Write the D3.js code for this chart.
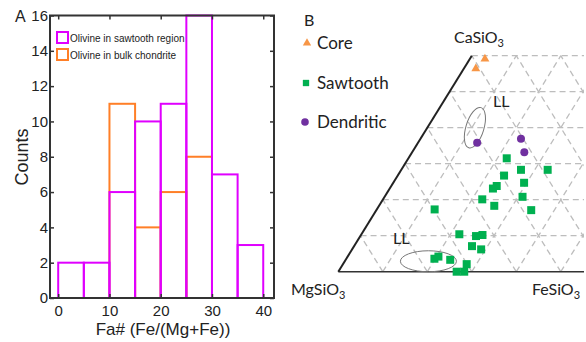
<!DOCTYPE html>
<html>
<head>
<meta charset="utf-8">
<script src="https://cdn.jsdelivr.net/npm/d3@7"></script>
<style>
  body { margin: 0; background: #fff; }
  svg { display: block; }
</style>
</head>
<body>
<div id="chart"></div>
<script>
// ---- panel A data: Fa# histogram ----
const binEdges = [0, 5, 10, 15, 20, 25, 30, 35, 40];
const sawtoothCounts = [2, 2, 6, 10, 11, 16, 7, 3];
const bulkCounts = [0, 0, 11, 4, 6, 8, 0, 0];
const xTicks = [0, 10, 20, 30, 40];
const yTicks = [0, 2, 4, 6, 8, 10, 12, 14, 16];
const histLegend = ["Olivine in sawtooth region", "Olivine in bulk chondrite"];

// ---- panel B data: pyroxene ternary (fs, wo in %) ----
const corePts = [[3.4, 59.1], [2.7, 56.4]];
const dendriticPts = [[13.3, 35.8], [22.6, 36.9], [25.2, 33.2]];
const sawtoothPts = [
  [22.1, 31.5], [26.9, 28.3], [32.9, 28.3], [23.9, 26.7], [29.4, 24.7],
  [23.7, 23.8], [23.2, 23.1], [31.0, 20.8], [22.3, 20.1], [25.9, 18.3],
  [34.8, 17.1], [13.0, 17.3], [22.0, 10.4], [26.0, 9.9], [27.3, 10.2],
  [26.5, 7.1], [29.0, 6.2], [19.8, 3.6], [20.4, 4.2], [23.5, 3.3],
  [27.8, 2.1], [26.6, 0], [28.3, 0]
];
const llFields = [
  { fs: 10.7, wo: 40.0, rx: 21, ry: 9, rot: -73 },
  { fs: 18.8, wo: 2.9, rx: 28, ry: 10.5, rot: 0 }
];
const gridSteps = [10, 20, 30, 40, 50, 60, 70, 80, 90];
const woMax = 60;

const W = 586, H = 342;
const svg = d3.select("#chart").append("svg").attr("width", W).attr("height", H);

const magenta = "#e000ff", orange = "#ff7f27";

// ================= panel A =================
const x = d3.scaleLinear().domain([-1.6, 42.1]).range([50, 274]);
const y = d3.scaleLinear().domain([0, 16]).range([298, 15.5]);
const gA = svg.append("g").style("font-family", "'Liberation Sans', Arial, sans-serif");

function drawBars(counts, color) {
  gA.append("g").selectAll("rect")
    .data(counts.map((c, i) => ({ c, x0: binEdges[i], x1: binEdges[i + 1] })).filter(d => d.c > 0))
    .enter().append("rect")
    .attr("x", d => x(d.x0))
    .attr("y", d => y(d.c))
    .attr("width", d => x(d.x1) - x(d.x0))
    .attr("height", d => y(0) - y(d.c))
    .attr("fill", "none")
    .attr("stroke", color)
    .attr("stroke-width", 2);
}
drawBars(bulkCounts, orange);
drawBars(sawtoothCounts, magenta);

// axes box with inward ticks (both sides)
const tl = 4;
gA.append("g").attr("transform", `translate(0,${y(0)})`)
  .call(d3.axisBottom(x).tickValues(xTicks).tickSizeInner(-tl).tickSizeOuter(0).tickPadding(7))
  .call(g => g.select(".domain").remove());
gA.append("g").attr("transform", `translate(0,${y(16)})`)
  .call(d3.axisTop(x).tickValues(xTicks).tickSizeInner(-tl).tickSizeOuter(0).tickFormat(""))
  .call(g => g.select(".domain").remove());
gA.append("g").attr("transform", `translate(${x.range()[0]},0)`)
  .call(d3.axisLeft(y).tickValues(yTicks).tickSizeInner(-tl).tickSizeOuter(0).tickPadding(2))
  .call(g => g.select(".domain").remove());
gA.append("g").attr("transform", `translate(${x.range()[1]},0)`)
  .call(d3.axisRight(y).tickValues(yTicks).tickSizeInner(-tl).tickSizeOuter(0).tickFormat(""))
  .call(g => g.select(".domain").remove());
gA.selectAll(".tick line").attr("stroke", "#333").attr("stroke-width", 1.5);
gA.selectAll(".tick text").attr("font-size", 15).attr("fill", "#222")
  .style("font-family", "'Liberation Sans', Arial, sans-serif");

gA.append("rect")
  .attr("x", x.range()[0]).attr("y", y(16))
  .attr("width", x.range()[1] - x.range()[0]).attr("height", y(0) - y(16))
  .attr("fill", "none").attr("stroke", "#333").attr("stroke-width", 2);

// legend
[magenta, orange].forEach((c, i) => {
  gA.append("rect").attr("x", 57).attr("y", 32 + i * 17).attr("width", 11).attr("height", 11)
    .attr("fill", "#fff").attr("stroke", c).attr("stroke-width", 2);
  gA.append("text").attr("x", 70).attr("y", 41.5 + i * 17)
    .attr("font-size", 10).attr("fill", "#222").text(histLegend[i]);
});

gA.append("text").attr("x", 163).attr("y", 335).attr("text-anchor", "middle")
  .attr("font-size", 17).attr("fill", "#222").text("Fa# (Fe/(Mg+Fe))");
gA.append("text").attr("transform", "translate(28,157) rotate(-90)").attr("text-anchor", "middle")
  .attr("font-size", 18).attr("fill", "#222").text("Counts");
gA.append("text").attr("x", 15).attr("y", 22).attr("font-size", 16).attr("fill", "#222").text("A");

// ================= panel B =================
const gB = svg.append("g").style("font-family", "Lato, 'Open Sans', sans-serif");
// ternary projection: x from fs + wo/2, y from wo
const tx = d3.scaleLinear().domain([0, 100]).range([338.3, 783.3]);
const ty = d3.scaleLinear().domain([0, woMax]).range([271.7, 55.7]);
const P = (fs, wo) => [tx(fs + wo / 2), ty(wo)];

svg.append("clipPath").attr("id", "tclip").append("rect")
  .attr("x", 0).attr("y", 0).attr("width", 584).attr("height", H);

const grid = gB.append("g").attr("clip-path", "url(#tclip)");
const segs = [];
gridSteps.filter(w => w <= woMax).forEach(w => segs.push([P(0, w), P(100 - w, w)]));
gridSteps.forEach(f => segs.push([P(f, 0), P(f, Math.min(woMax, 100 - f))]));
gridSteps.forEach(c => {
  const w = Math.min(woMax, 100 - c);
  segs.push([P(100 - c, 0), P(100 - c - w, w)]);
});
grid.selectAll("line.grid").data(segs).enter().append("line")
  .attr("x1", d => d[0][0]).attr("y1", d => d[0][1])
  .attr("x2", d => d[1][0]).attr("y2", d => d[1][1])
  .attr("stroke", "#bdbdbd").attr("stroke-width", 1.3).attr("stroke-dasharray", "6 4");

// solid edges
grid.append("line")
  .attr("x1", P(0, 0)[0]).attr("y1", P(0, 0)[1]).attr("x2", P(100, 0)[0]).attr("y2", P(100, 0)[1])
  .attr("stroke", "#333").attr("stroke-width", 1.5);
gB.append("line")
  .attr("x1", P(0, 0)[0]).attr("y1", P(0, 0)[1]).attr("x2", P(0, woMax)[0]).attr("y2", P(0, woMax)[1])
  .attr("stroke", "#222").attr("stroke-width", 2);

// LL fields
gB.selectAll("ellipse").data(llFields).enter().append("ellipse")
  .attr("transform", d => `translate(${P(d.fs, d.wo)}) rotate(${d.rot})`)
  .attr("rx", d => d.rx).attr("ry", d => d.ry)
  .attr("fill", "none").attr("stroke", "#777").attr("stroke-width", 1);

const green = "#00b050", purple = "#7030a0", coreC = "#f79646";
const sq = d3.symbol().type(d3.symbolSquare).size(64);
const tri = d3.symbol().type(d3.symbolTriangle).size(34);

gB.selectAll("path.saw").data(sawtoothPts).enter().append("path")
  .attr("d", sq).attr("transform", d => `translate(${P(d[0], d[1])})`).attr("fill", green);
gB.selectAll("circle.den").data(dendriticPts).enter().append("circle")
  .attr("cx", d => P(d[0], d[1])[0]).attr("cy", d => P(d[0], d[1])[1]).attr("r", 4).attr("fill", purple);
gB.selectAll("path.core").data(corePts).enter().append("path")
  .attr("d", tri).attr("transform", d => `translate(${P(d[0], d[1])})`).attr("fill", coreC);

// labels
const lab = (xx, yy, main, sub, anchor) => {
  const t = gB.append("text").attr("x", xx).attr("y", yy).attr("font-size", 16).attr("fill", "#222")
    .attr("text-anchor", anchor || "start").text(main);
  if (sub) t.append("tspan").attr("font-size", 11).attr("dy", 4).text(sub);
};
lab(454, 43, "CaSiO", "3");
lab(291, 295, "MgSiO", "3");
lab(532, 295, "FeSiO", "3");
lab(493, 107, "LL");
lab(393, 244, "LL");
gB.append("text").attr("x", 304).attr("y", 26).attr("font-size", 16).attr("fill", "#222").text("B");

// legend
const legB = [
  { name: "Core", y: 43 },
  { name: "Sawtooth", y: 83 },
  { name: "Dendritic", y: 122 }
];
gB.append("path").attr("d", d3.symbol().type(d3.symbolTriangle).size(30)).attr("transform", `translate(307,${legB[0].y})`).attr("fill", coreC);
gB.append("path").attr("d", d3.symbol().type(d3.symbolSquare).size(40)).attr("transform", `translate(306,${legB[1].y})`).attr("fill", green);
gB.append("circle").attr("cx", 305).attr("cy", legB[2].y).attr("r", 3.8).attr("fill", purple);
gB.selectAll("text.leg").data(legB).enter().append("text")
  .attr("x", 317).attr("y", d => d.y + 6).attr("font-size", 17).attr("fill", "#222").text(d => d.name);
</script>
</body>
</html>
